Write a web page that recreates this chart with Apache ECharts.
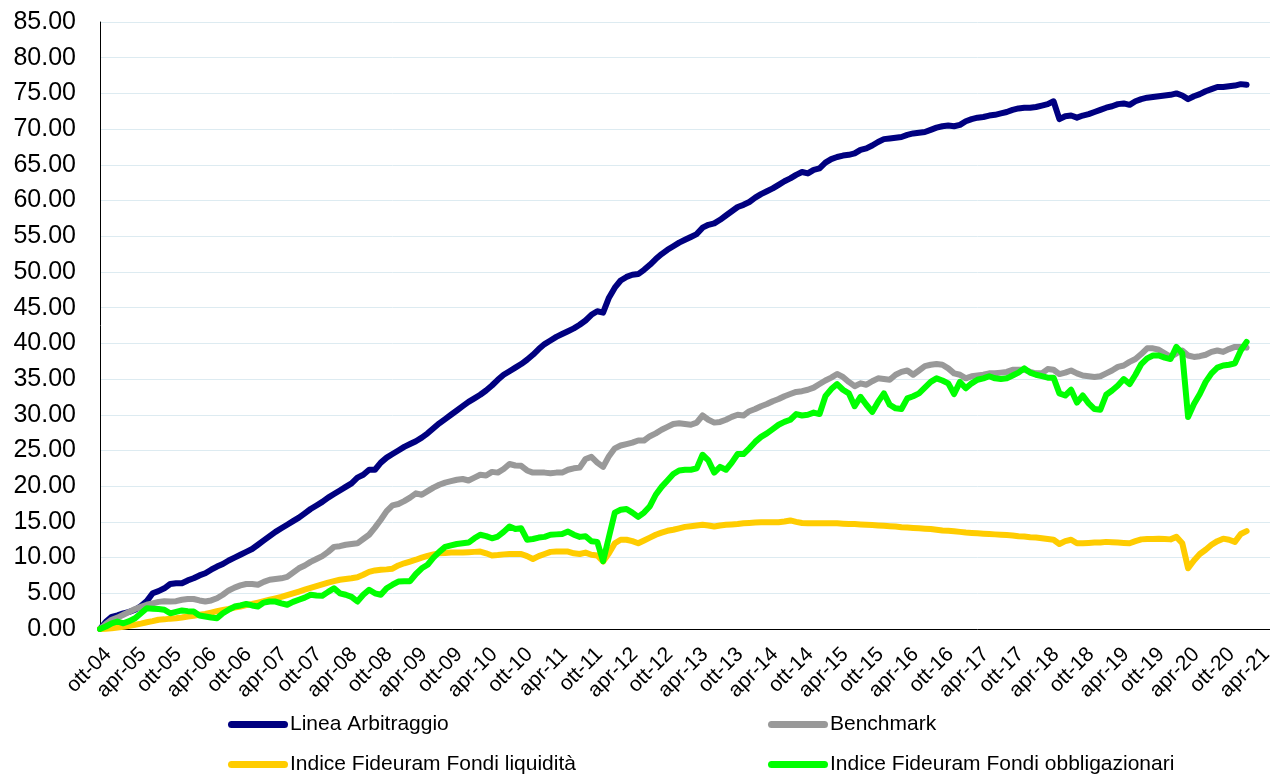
<!DOCTYPE html>
<html>
<head>
<meta charset="utf-8">
<script src="https://cdn.jsdelivr.net/npm/echarts@6/dist/echarts.min.js"></script>
<style>
  html, body { margin: 0; padding: 0; background: #fff; }
  #chart { width: 1270px; height: 774px; }
</style>
</head>
<body>
<div id="chart"></div>
<script>
// mesi in italiano per le etichette dell'asse
var mesi = ['gen', 'feb', 'mar', 'apr', 'mag', 'giu', 'lug', 'ago', 'set', 'ott', 'nov', 'dic'];

// categorie mensili da ott-04 (l'asse arriva un po' oltre apr-21)
var categorie = [];
for (var k = 0; k < 201; k++) {
    var m = (9 + k) % 12;
    var a = 4 + Math.floor((9 + k) / 12);
    categorie.push(mesi[m] + '-' + (a < 10 ? '0' + a : a));
}

var arbitraggio = [
    0, 1.0, 1.7, 1.9, 2.2, 2.4, 2.7, 3.2, 3.9, 5.0, 5.3, 5.7,
    6.3, 6.4, 6.4, 6.8, 7.1, 7.5, 7.8, 8.3, 8.75, 9.1, 9.6, 10.0,
    10.4, 10.8, 11.2, 11.8, 12.4, 13.0, 13.6, 14.1, 14.6, 15.1, 15.6, 16.2,
    16.8, 17.3, 17.8, 18.4, 18.9, 19.4, 19.9, 20.4, 21.2, 21.6, 22.3, 22.3,
    23.3, 24.0, 24.5, 25.0, 25.5, 25.9, 26.3, 26.8, 27.4, 28.1, 28.8, 29.4,
    30.0, 30.6, 31.2, 31.8, 32.3, 32.8, 33.4, 34.1, 34.9, 35.6, 36.1, 36.6,
    37.1, 37.7, 38.4, 39.2, 39.9, 40.4, 40.9, 41.3, 41.7, 42.1, 42.6, 43.2,
    44.0, 44.5, 44.3, 46.4, 47.8, 48.8, 49.3, 49.6, 49.7, 50.3, 51.0, 51.8,
    52.5, 53.1, 53.6, 54.1, 54.5, 54.9, 55.3, 56.2, 56.6, 56.8, 57.3, 57.9,
    58.5, 59.1, 59.4, 59.8, 60.4, 60.9, 61.3, 61.7, 62.2, 62.7, 63.1, 63.6,
    64.0, 63.8, 64.3, 64.5, 65.3, 65.8, 66.1, 66.3, 66.4, 66.6, 67.1, 67.3,
    67.7, 68.2, 68.6, 68.7, 68.8, 68.9, 69.2, 69.4, 69.5, 69.6, 69.9, 70.2,
    70.4, 70.5, 70.4, 70.6, 71.1, 71.4, 71.6, 71.7, 71.9, 72.0, 72.2, 72.4,
    72.7, 72.9, 73.0, 73.0, 73.1, 73.3, 73.5, 73.9, 71.4, 71.8, 71.9, 71.6,
    71.9, 72.1, 72.4, 72.7, 73.0, 73.2, 73.5, 73.6, 73.4, 73.9, 74.2, 74.4,
    74.5, 74.6, 74.7, 74.8, 75.0, 74.7, 74.2, 74.6, 74.9, 75.3, 75.6, 75.9,
    75.9, 76.0, 76.1, 76.3, 76.2
];

var benchmark = [
    0, 0.7, 1.3, 1.6, 2.0, 2.4, 2.8, 3.1, 3.4, 3.6, 3.8, 3.9,
    3.85, 3.9, 4.1, 4.2, 4.2, 4.0, 3.85, 4.0, 4.3, 4.8, 5.4, 5.8,
    6.1, 6.3, 6.3, 6.2, 6.6, 6.9, 7.0, 7.1, 7.3, 7.9, 8.5, 8.9,
    9.4, 9.8, 10.2, 10.8, 11.5, 11.6, 11.8, 11.9, 12.0, 12.6, 13.2, 14.2,
    15.3, 16.5, 17.3, 17.5, 17.9, 18.4, 19.0, 18.8, 19.3, 19.8, 20.2, 20.5,
    20.7, 20.9, 21.0, 20.8, 21.2, 21.6, 21.5, 22.0, 21.9, 22.4, 23.1, 22.9,
    22.85, 22.2, 21.9, 21.9, 21.9, 21.8, 21.9, 21.9, 22.3, 22.5, 22.6, 23.8,
    24.1, 23.3, 22.7, 24.2, 25.3, 25.7, 25.9, 26.1, 26.4, 26.4, 27.0, 27.4,
    27.9, 28.3, 28.7, 28.8, 28.7, 28.6, 28.9, 29.9, 29.3, 28.9, 29.0, 29.3,
    29.7, 30.0, 29.9, 30.5, 30.8, 31.2, 31.5, 31.9, 32.2, 32.6, 32.9, 33.2,
    33.3, 33.5, 33.8, 34.3, 34.8, 35.2, 35.7, 35.3, 34.6, 34.0, 34.4, 34.2,
    34.7, 35.1, 35.0, 34.9, 35.6, 36.0, 36.2, 35.6, 36.2, 36.8, 37.0, 37.1,
    37.0, 36.5, 35.8, 35.6, 35.1, 35.4, 35.5, 35.6, 35.8, 35.8, 35.9, 36.0,
    36.3, 36.3, 36.3, 36.0, 35.8, 35.8, 36.4, 36.3, 35.7, 35.9, 36.2, 35.8,
    35.5, 35.4, 35.3, 35.4, 35.8, 36.2, 36.7, 36.9, 37.4, 37.8, 38.5, 39.3,
    39.3, 39.1, 38.6, 38.1, 38.6, 39.0, 38.3, 38.1, 38.2, 38.4, 38.8, 39.0,
    38.8, 39.2, 39.5, 39.5, 39.4
];

var liquidita = [
    0, 0.05, 0.1, 0.2, 0.3, 0.45, 0.6, 0.75, 0.95, 1.1, 1.3, 1.35,
    1.45, 1.5, 1.6, 1.75, 1.85, 2.0, 2.1, 2.3, 2.5, 2.65, 2.8, 3.0,
    3.15, 3.35, 3.5, 3.7, 3.9, 4.1, 4.3, 4.5, 4.75, 5.0, 5.25, 5.5,
    5.75, 6.0, 6.25, 6.5, 6.7, 6.9, 7.0, 7.1, 7.25, 7.6, 8.0, 8.2,
    8.3, 8.35, 8.45, 8.9, 9.2, 9.45, 9.7, 10.0, 10.25, 10.45, 10.6, 10.65,
    10.7, 10.7, 10.7, 10.75, 10.8, 10.85, 10.6, 10.3, 10.35, 10.45, 10.5, 10.5,
    10.5, 10.2, 9.8, 10.2, 10.5, 10.8, 10.85, 10.85, 10.85, 10.6, 10.5, 10.7,
    10.4, 10.3, 9.45, 10.6, 12.0, 12.5, 12.5, 12.3, 12.0, 12.4, 12.8, 13.2,
    13.5, 13.75, 13.9, 14.1, 14.3, 14.4, 14.5, 14.6, 14.5, 14.35, 14.5, 14.6,
    14.65, 14.7, 14.8, 14.85, 14.9, 14.95, 14.95, 14.95, 14.95, 15.05, 15.2, 15.0,
    14.85, 14.8, 14.8, 14.8, 14.8, 14.8, 14.8, 14.75, 14.7, 14.7, 14.65, 14.6,
    14.55, 14.5, 14.45, 14.4, 14.35, 14.25, 14.2, 14.15, 14.1, 14.05, 14.0, 13.9,
    13.8, 13.75, 13.7, 13.6, 13.5, 13.45, 13.4, 13.35, 13.3, 13.25, 13.2, 13.15,
    13.1, 13.0, 12.95, 12.85, 12.8, 12.7, 12.6, 12.5, 11.9, 12.3, 12.5, 12.0,
    12.0, 12.05, 12.1, 12.1, 12.2, 12.15, 12.1, 12.05, 12.0, 12.3, 12.55, 12.6,
    12.6, 12.65, 12.6, 12.55, 12.9, 12.0, 8.5, 9.6, 10.5, 11.1, 11.8, 12.3,
    12.65, 12.5, 12.2, 13.3, 13.7
];

var obbligazionari = [
    0, 0.35, 0.8, 1.05, 0.8, 1.1, 1.5, 2.2, 2.9, 2.85, 2.8, 2.7,
    2.2, 2.4, 2.6, 2.5, 2.45, 1.9, 1.75, 1.6, 1.5, 2.2, 2.7, 3.15,
    3.3, 3.5, 3.3, 3.15, 3.7, 3.85, 3.85, 3.6, 3.4, 3.8, 4.1, 4.4,
    4.8, 4.7, 4.65, 5.2, 5.7, 5.0, 4.8, 4.5, 3.85, 4.8, 5.5, 5.0,
    4.8, 5.7, 6.2, 6.65, 6.7, 6.7, 7.7, 8.5, 9.0, 10.0, 10.8, 11.5,
    11.7, 11.9, 12.0, 12.1, 12.7, 13.2, 13.0, 12.7, 12.95, 13.6, 14.35, 14.0,
    14.1, 12.5, 12.6, 12.8, 12.9, 13.2, 13.25, 13.3, 13.65, 13.2, 12.9, 13.0,
    12.3, 12.2, 9.5, 12.9, 16.3, 16.7, 16.8, 16.3, 15.7, 16.3, 17.2, 18.8,
    19.9, 20.8, 21.7, 22.2, 22.3, 22.3, 22.5, 24.4, 23.6, 21.9, 22.7, 22.3,
    23.3, 24.5, 24.5, 25.3, 26.2, 26.9, 27.4, 28.0, 28.6, 29.0, 29.3, 30.1,
    29.9, 30.0, 30.3, 30.1, 32.6, 33.6, 34.3, 33.5, 33.0, 31.2, 32.5, 31.4,
    30.4, 31.8, 33.0, 31.4, 30.9, 30.8, 32.3, 32.6, 33.0, 33.8, 34.6, 35.1,
    34.8, 34.4, 32.9, 34.6, 33.7, 34.4, 34.9, 35.1, 35.4, 35.1, 35.0, 35.1,
    35.5, 35.9, 36.5, 35.9, 35.6, 35.4, 35.2, 35.2, 33.0, 32.7, 33.5, 31.7,
    32.7, 31.6, 30.8, 30.7, 32.8, 33.4, 34.1, 35.0, 34.3, 35.6, 37.1, 37.9,
    38.3, 38.3, 38.0, 37.8, 39.5, 38.6, 29.7, 31.5, 32.9, 34.6, 35.8, 36.6,
    36.9, 37.0, 37.2, 39.0, 40.2
];

var nomi = ['Linea Arbitraggio', 'Benchmark', 'Indice Fideuram Fondi liquidità', 'Indice Fideuram Fondi obbligazionari'];
var colori = ['#000080', '#999999', '#FFCC00', '#00FF00'];
var serie = [arbitraggio, benchmark, liquidita, obbligazionari];

var font = 'Liberation Sans, Arial, sans-serif';
var pill = 'path://M3.5,0 L56.5,0 A3.5,3.5 0 0 1 56.5,7 L3.5,7 A3.5,3.5 0 0 1 3.5,0 Z';

var dom = document.getElementById('chart');
var myChart = echarts.init(dom, null, { renderer: 'canvas' });

// una legenda per ogni voce, disposte su 2 righe x 2 colonne
var legendPos = [[223, 709], [763, 709], [223, 749], [763, 749]];
var legende = nomi.map(function (n, i) {
    return {
        data: [n],
        left: legendPos[i][0],
        top: legendPos[i][1],
        icon: pill,
        itemWidth: 60,
        itemHeight: 7,
        itemGap: 0,
        selectedMode: false,
        textStyle: { fontFamily: font, fontSize: 21, color: '#000', padding: [0, 0, 0, -3] }
    };
});

var option = {
    animation: false,
    backgroundColor: '#fff',
    grid: { left: 100, right: 0, top: 22, bottom: 145, containLabel: false, outerBoundsMode: 'none' },
    legend: legende,
    xAxis: {
        type: 'category',
        data: categorie,
        boundaryGap: false,
        axisLine: { lineStyle: { color: '#000', width: 1 } },
        axisTick: { show: false },
        axisLabel: {
            interval: function (idx) { return idx % 6 === 0 && idx <= 198; },
            showMinLabel: true,
            showMaxLabel: true,
            hideOverlap: false,
            rotate: 45,
            margin: 14,
            verticalAlign: 'top',
            lineHeight: 23,
            fontFamily: font,
            fontSize: 21,
            color: '#000'
        },
        splitLine: { show: false }
    },
    yAxis: {
        type: 'value',
        min: 0,
        max: 85,
        interval: 5,
        axisLine: { show: true, lineStyle: { color: '#000', width: 1 } },
        axisTick: { show: false },
        axisLabel: {
            margin: 24,
            fontFamily: font,
            fontSize: 25,
            color: '#000',
            formatter: function (v) { return v.toFixed(2); }
        },
        splitLine: { lineStyle: { color: '#DDEBF1', width: 1 } }
    },
    series: serie.map(function (d, i) {
        return {
            name: nomi[i],
            type: 'line',
            data: d,
            symbol: 'none',
            color: colori[i],
            lineStyle: { width: 6, color: colori[i], cap: 'round', join: 'round' },
            z: 2 + i
        };
    })
};

myChart.setOption(option);
</script>
</body>
</html>
